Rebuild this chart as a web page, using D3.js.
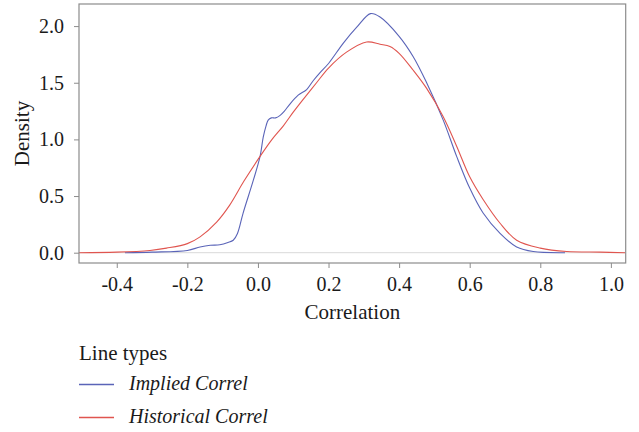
<!DOCTYPE html>
<html>
<head>
<meta charset="utf-8">
<script src="https://cdn.jsdelivr.net/npm/d3@7"></script>
<style>
  html, body { margin: 0; padding: 0; background: #fff; }
  svg { display: block; font-family: "Liberation Serif", "DejaVu Serif", serif; }
</style>
</head>
<body>
<svg id="chart" width="639" height="432"></svg>
<script>
// Kernel density estimates of correlations
const impliedX = [-0.377, -0.30, -0.20, -0.164, -0.135, -0.108, -0.085, -0.07, -0.058, -0.042, -0.013, 0.006, 0.015, 0.023, 0.029, 0.038, 0.05, 0.062, 0.075, 0.09, 0.114, 0.138, 0.157, 0.176, 0.2, 0.242, 0.28, 0.319, 0.346, 0.40, 0.44, 0.478, 0.525, 0.563, 0.60, 0.638, 0.686, 0.733, 0.78, 0.87];
const impliedY = [0, 0.005, 0.02, 0.05, 0.065, 0.07, 0.09, 0.11, 0.17, 0.35, 0.64, 0.85, 1.02, 1.12, 1.17, 1.19, 1.19, 1.21, 1.25, 1.31, 1.39, 1.44, 1.52, 1.59, 1.67, 1.85, 1.99, 2.11, 2.08, 1.91, 1.73, 1.50, 1.17, 0.85, 0.57, 0.35, 0.17, 0.05, 0.01, 0];

const historicalX = [-0.507, -0.40, -0.306, -0.259, -0.2, -0.164, -0.117, -0.08, -0.04, 0.006, 0.04, 0.072, 0.1, 0.13, 0.166, 0.2, 0.251, 0.308, 0.346, 0.374, 0.40, 0.44, 0.478, 0.525, 0.563, 0.60, 0.638, 0.686, 0.733, 0.80, 0.875, 0.97, 1.04];
const historicalY = [0, 0.005, 0.02, 0.04, 0.08, 0.14, 0.27, 0.42, 0.63, 0.85, 1.0, 1.12, 1.24, 1.36, 1.50, 1.63, 1.77, 1.86, 1.84, 1.82, 1.76, 1.61, 1.45, 1.20, 0.94, 0.67, 0.47, 0.26, 0.11, 0.04, 0.01, 0.005, 0];

const xTicks = [-0.4, -0.2, 0.0, 0.2, 0.4, 0.6, 0.8, 1.0];
const yTicks = [0.0, 0.5, 1.0, 1.5, 2.0];

const seriesNames = ["Implied Correl", "Historical Correl"];
const seriesColors = ["#5a64b8", "#e0554f"];

const W = 639, H = 432;
const margin = { top: 4, right: 13.3, bottom: 169, left: 79 };
const svg = d3.select("#chart");

const x = d3.scaleLinear().domain([-0.507, 1.042]).range([margin.left, W - margin.right]);
const y = d3.scaleLinear().domain([-0.091, 2.195]).range([H - margin.bottom, margin.top]);

// one decimal, plain hyphen for negatives
const fmt = d => d3.format(".1f")(d).replace("\u2212", "-");

// zero reference line
svg.append("line")
  .attr("x1", x.range()[0]).attr("x2", x.range()[1])
  .attr("y1", y(0)).attr("y2", y(0))
  .attr("stroke", "#d9d9d9").attr("stroke-width", 1);

const line = d3.line()
  .x(d => x(d[0]))
  .y(d => y(d[1]))
  .curve(d3.curveCatmullRom.alpha(0.5));

const series = [
  d3.zip(impliedX, impliedY),
  d3.zip(historicalX, historicalY)
];

svg.append("g").selectAll("path")
  .data(series)
  .join("path")
  .attr("d", line)
  .attr("fill", "none")
  .attr("stroke", (d, i) => seriesColors[i])
  .attr("stroke-width", 1.1);

// plot frame
svg.append("rect")
  .attr("x", x.range()[0]).attr("y", y.range()[1])
  .attr("width", x.range()[1] - x.range()[0])
  .attr("height", y.range()[0] - y.range()[1])
  .attr("fill", "none").attr("stroke", "#8c8c8c").attr("stroke-width", 1.2);

// axes
const xAxis = svg.append("g")
  .attr("transform", `translate(0,${y.range()[0]})`)
  .call(d3.axisBottom(x).tickValues(xTicks).tickFormat(fmt).tickSizeOuter(0).tickSize(5).tickPadding(9));
const yAxis = svg.append("g")
  .attr("transform", `translate(${x.range()[0]},0)`)
  .call(d3.axisLeft(y).tickValues(yTicks).tickFormat(fmt).tickSizeOuter(0).tickSize(5).tickPadding(10));

[xAxis, yAxis].forEach(g => {
  g.select(".domain").remove();
  g.selectAll(".tick line").attr("stroke", "#8c8c8c");
  g.selectAll(".tick text")
    .attr("fill", "#1a1a1a")
    .attr("font-family", "Liberation Serif, serif")
    .attr("font-size", 20);
});

// axis titles
svg.append("text")
  .attr("x", (x.range()[0] + x.range()[1]) / 2)
  .attr("y", 319)
  .attr("text-anchor", "middle")
  .attr("font-size", 21)
  .attr("fill", "#1a1a1a")
  .text("Correlation");

svg.append("text")
  .attr("transform", `translate(29,${(y.range()[0] + y.range()[1]) / 2}) rotate(-90)`)
  .attr("text-anchor", "middle")
  .attr("font-size", 21)
  .attr("fill", "#1a1a1a")
  .text("Density");

// legend
const legend = svg.append("g");
legend.append("text")
  .attr("x", 79).attr("y", 360)
  .attr("font-size", 21)
  .attr("fill", "#1a1a1a")
  .text("Line types");

const item = legend.selectAll("g.item")
  .data(seriesNames)
  .join("g")
  .attr("class", "item")
  .attr("transform", (d, i) => `translate(0,${384.5 + i * 33})`);
item.append("line")
  .attr("x1", 79).attr("x2", 114)
  .attr("stroke", (d, i) => seriesColors[i])
  .attr("stroke-width", 1.4);
item.append("text")
  .attr("x", 129).attr("y", 5.5)
  .attr("font-size", 20)
  .attr("font-style", "italic")
  .attr("fill", "#1a1a1a")
  .text(d => d);
</script>
</body>
</html>
